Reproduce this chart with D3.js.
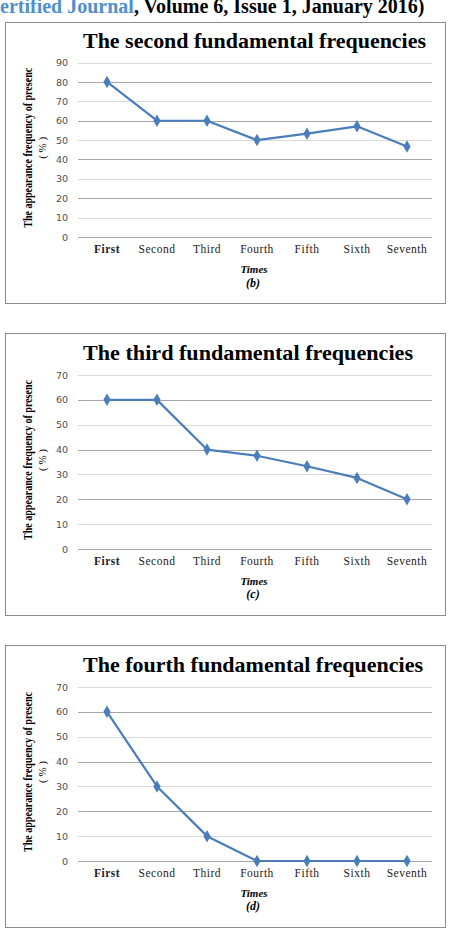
<!DOCTYPE html>
<html><head><meta charset="utf-8">
<script src="https://cdn.jsdelivr.net/npm/d3@7/dist/d3.min.js"></script>
<style>body{margin:0;background:#fff;}svg{display:block;}</style>
</head><body>
<script>
const categories = ["First","Second","Third","Fourth","Fifth","Sixth","Seventh"];
const secondValues = [80, 60, 60, 50, 53.3, 57.1, 46.7];
const thirdValues  = [60, 60, 40, 37.5, 33.3, 28.6, 20];
const fourthValues = [60, 30, 10, 0, 0, 0, 0];
const titles = ["The second fundamental frequencies","The third fundamental frequencies","The fourth fundamental frequencies"];
const subLabels = ["(b)","(c)","(d)"];
const yMaxes = [90, 70, 70];
const yTicks = [d3.range(0,91,10), d3.range(0,71,10), d3.range(0,71,10)];
const xAxisTitle = "Times";
const yAxisTitle = "The appearance frequency of presenc";
const yAxisUnit = "( % )";

const W = 452, H = 942;
const svg = d3.select("body").append("svg").attr("width", W).attr("height", H);
const serif = "'Liberation Serif','Times New Roman',serif";
const sans = "'DejaVu Sans',Verdana,sans-serif";

// header (cropped at the top edge, as in the reference)
const hdr = svg.append("text").attr("x", 0).attr("y", 12.5)
  .attr("font-family", serif).attr("font-weight", "bold").attr("font-size", 20);
hdr.append("tspan").attr("fill", "#4f8fd0").text("ertified Journal");
hdr.append("tspan").attr("fill", "#000").text(", Volume 6, Issue 1, January 2016)");

const panels = [
  {top: 22, bottom: 303, titleY: 48, y0: 237, yTop: 62.6, labY: 255, timesY: 273, subY: 287, vals: secondValues},
  {top: 333, bottom: 615, titleY: 360, y0: 549, yTop: 375, labY: 567, timesY: 585, subY: 598, vals: thirdValues},
  {top: 645, bottom: 927, titleY: 672, y0: 861, yTop: 687, labY: 879, timesY: 897, subY: 910, vals: fourthValues}
];
const titleLens = [343, 330, 340];

panels.forEach((p, i) => {
  const g = svg.append("g");
  g.append("rect").attr("x", 5.5).attr("y", p.top + 0.5).attr("width", 440).attr("height", p.bottom - p.top)
    .attr("fill", "#fff").attr("stroke", "#8c8c8c").attr("stroke-width", 1);
  g.append("text").attr("x", 83).attr("y", p.titleY).attr("text-anchor", "start")
    .attr("font-family", serif).attr("font-weight", "bold").attr("font-size", 21.5)
    .attr("textLength", titleLens[i]).attr("lengthAdjust", "spacingAndGlyphs")
    .attr("fill", "#000").text(titles[i]);

  const x = d3.scaleBand().domain(categories).range([82, 432]);
  const y = d3.scaleLinear().domain([0, yMaxes[i]]).range([p.y0, p.yTop]);

  // gridlines
  g.append("g").selectAll("line").data(yTicks[i]).join("line")
    .attr("x1", 78).attr("x2", 432)
    .attr("y1", d => Math.round(y(d)) + 0.5).attr("y2", d => Math.round(y(d)) + 0.5)
    .attr("stroke", d => (d / 10) % 2 === 0 ? "#a6a6a6" : "#d9d9d9").attr("stroke-width", 1);

  // y axis labels
  const ya = d3.axisLeft(y).tickValues(yTicks[i]).tickSize(0).tickPadding(0);
  const yg = g.append("g").attr("transform", "translate(68,0)").call(ya);
  yg.select(".domain").remove();
  yg.selectAll("text").attr("font-family", sans).attr("font-size", 9.5).attr("fill", "#4d4d4d");

  // x axis labels
  const xa = d3.axisBottom(x).tickSize(0).tickPadding(0);
  const xg = g.append("g").attr("transform", `translate(0,${p.labY - 10})`).call(xa);
  xg.select(".domain").remove();
  xg.selectAll("text").attr("font-family", serif).attr("font-size", 11.5).attr("fill", "#222")
    .attr("letter-spacing", 0.5)
    .attr("font-weight", d => d === "First" ? "bold" : "normal");

  // axis titles
  g.append("text").attr("x", 254).attr("y", p.timesY).attr("text-anchor", "middle")
    .attr("font-family", serif).attr("font-style", "italic").attr("font-weight", "bold")
    .attr("font-size", 11).text(xAxisTitle);
  g.append("text").attr("x", 253).attr("y", p.subY).attr("text-anchor", "middle")
    .attr("font-family", serif).attr("font-style", "italic").attr("font-weight", "bold")
    .attr("font-size", 12).text(subLabels[i]);

  const yc = (p.yTop + p.y0) / 2 - 2;
  g.append("text").attr("transform", `translate(32,${yc}) rotate(-90)`).attr("text-anchor", "middle")
    .attr("font-family", serif).attr("font-weight", "bold").attr("font-size", 12.5).attr("fill", "#000")
    .attr("textLength", 160).attr("lengthAdjust", "spacingAndGlyphs").text(yAxisTitle);
  g.append("text").attr("transform", `translate(46,${yc}) rotate(-90)`).attr("text-anchor", "middle")
    .attr("font-family", serif).attr("font-size", 11).attr("fill", "#000").text(yAxisUnit);

  // line
  const line = d3.line().x((d, j) => x(categories[j]) + x.bandwidth() / 2).y(d => y(d));
  g.append("path").datum(p.vals).attr("d", line).attr("fill", "none")
    .attr("stroke", "#4a7ebb").attr("stroke-width", 2.2).attr("stroke-linejoin", "round");
  g.append("g").selectAll("path").data(p.vals).join("path")
    .attr("transform", (d, j) => `translate(${x(categories[j]) + x.bandwidth() / 2},${y(d)})`)
    .attr("d", d3.symbol().type(d3.symbolDiamond).size(45)).attr("fill", "#4a7ebb");
});
</script>
</body></html>
